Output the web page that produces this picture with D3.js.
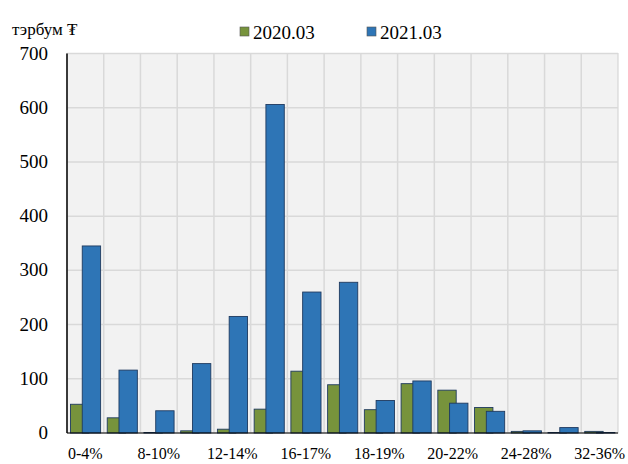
<!DOCTYPE html>
<html>
<head>
<meta charset="utf-8">
<script src="https://cdn.jsdelivr.net/npm/d3@7"></script>
</head>
<body style="margin:0">
<script>
// categories (interest rate buckets)
const categories = ["0-4%", "4-8%", "8-10%", "10-12%", "12-14%", "14-16%", "16-17%", "17-18%",
                    "18-19%", "19-20%", "20-22%", "22-24%", "24-28%", "28-32%", "32-36%"];
const series2020 = [53, 28, 1, 4, 7, 44, 114, 89, 43, 91, 79, 47, 3, 1, 3];
const series2021 = [345, 116, 41, 128, 215, 606, 260, 278, 60, 96, 55, 40, 4, 10, 1];
const yTicks = [0, 100, 200, 300, 400, 500, 600, 700];
const seriesNames = ["2020.03", "2021.03"];
const colors = ["#77933c", "#2e75b6"];

const width = 628, height = 464;
const plot = {left: 67, right: 618, top: 53.5, bottom: 433};

const svg = d3.select("body").append("svg")
    .attr("width", width)
    .attr("height", height);

// draw texts first so they get the serif face like the test page
const labels = svg.append("g").attr("class", "labels");
function label(xp, yp, size, anchor, txt) {
    labels.append("text")
        .attr("x", xp).attr("y", yp)
        .attr("font-size", size)
        .attr("font-family", "Liberation Serif")
        .style("font-family", "'Liberation Serif'")
        .attr("text-anchor", anchor)
        .text(txt);
}

const x = d3.scaleBand()
    .domain(categories)
    .range([plot.left, plot.right])
    .padding(0);

const y = d3.scaleLinear()
    .domain([0, 700])
    .range([plot.bottom, plot.top]);

const chart = svg.append("g");

// plot background
chart.append("rect")
    .attr("x", plot.left).attr("y", plot.top)
    .attr("width", plot.right - plot.left)
    .attr("height", plot.bottom - plot.top)
    .attr("fill", "#f2f2f2")
    .attr("stroke", "#d0d0d0")
    .attr("stroke-width", 1);

// horizontal grid
chart.append("g").selectAll("line")
    .data(yTicks.filter(d => d > 0))
    .join("line")
    .attr("x1", plot.left).attr("x2", plot.right)
    .attr("y1", d => y(d)).attr("y2", d => y(d))
    .attr("stroke", "#d9d9d9")
    .attr("stroke-width", 1.5);

// vertical grid at category boundaries
chart.append("g").selectAll("line")
    .data(categories.slice(1))
    .join("line")
    .attr("x1", d => x(d)).attr("x2", d => x(d))
    .attr("y1", plot.top).attr("y2", plot.bottom)
    .attr("stroke", "#d9d9d9")
    .attr("stroke-width", 1.5);

// bars: green first, blue drawn over it (overlapping clusters)
const bw = x.bandwidth();
const barW = bw * 0.5;
const offsets = [bw * 0.095, bw * 0.415];
[series2020, series2021].forEach(function(vals, s) {
    chart.append("g").selectAll("rect")
        .data(vals.map((v, i) => ({cat: categories[i], v: v})))
        .join("rect")
        .attr("x", d => x(d.cat) + offsets[s])
        .attr("y", d => y(d.v))
        .attr("width", barW)
        .attr("height", d => plot.bottom - y(d.v))
        .attr("fill", colors[s])
        .attr("stroke", "#1f3a5f")
        .attr("stroke-width", 0.9);
});

// axes lines
chart.append("line")
    .attr("x1", plot.left).attr("x2", plot.left)
    .attr("y1", plot.top).attr("y2", plot.bottom)
    .attr("stroke", "#000").attr("stroke-width", 1.5);
chart.append("line")
    .attr("x1", plot.left).attr("x2", plot.right)
    .attr("y1", plot.bottom).attr("y2", plot.bottom)
    .attr("stroke", "#000").attr("stroke-width", 1.2);

// y tick labels
yTicks.forEach(d => label(48, y(d) + 6, 19, "end", d));

// x labels (every other category)
categories.forEach((d, i) => {
    if (i % 2 === 0) label(x(d) + bw / 2, 459, 16, "middle", d);
});

// unit label
label(12, 35, 17, "start", "тэрбум ₮");

// legend
const legendX = [240, 367];
seriesNames.forEach(function(name, s) {
    chart.append("rect")
        .attr("x", legendX[s]).attr("y", 27)
        .attr("width", 9).attr("height", 9)
        .attr("fill", colors[s])
        .attr("stroke", "#555").attr("stroke-width", 0.6);
    label(legendX[s] + 13, 39, 19, "start", name);
});
</script>
</body>
</html>
